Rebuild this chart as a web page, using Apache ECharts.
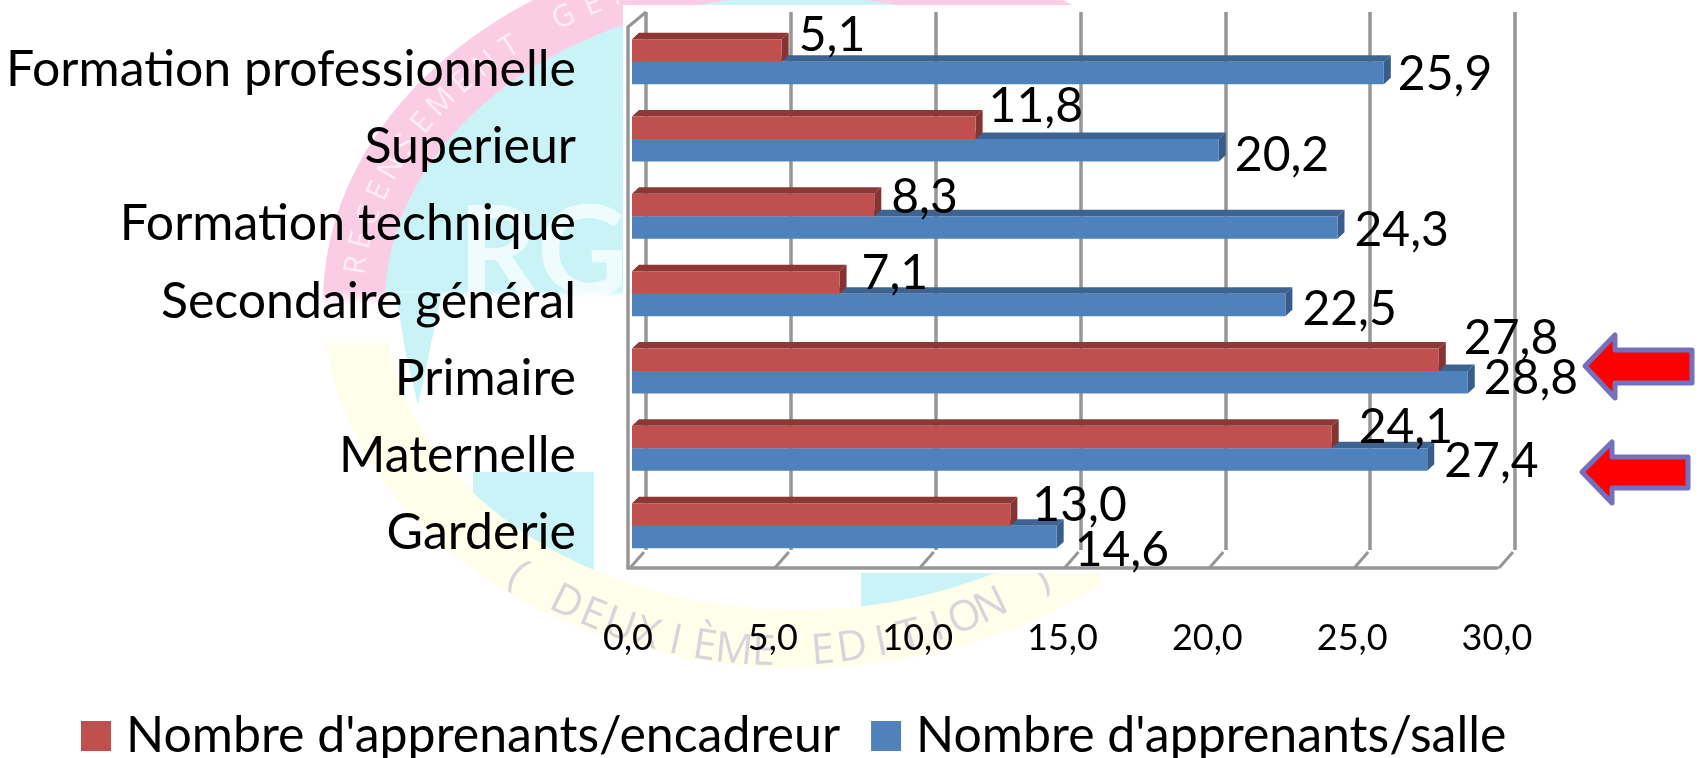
<!DOCTYPE html>
<html><head><meta charset="utf-8">
<style>html,body{margin:0;padding:0;background:#fff}#c{width:1699px;height:758px}</style>
<script src="https://cdn.jsdelivr.net/npm/echarts@6/dist/echarts.min.js"></script>
</head><body><div id="c"></div>
<script>
const categories = ['Formation professionnelle','Superieur','Formation technique','Secondaire général','Primaire','Maternelle','Garderie'];
const encadreur = [5.1,11.8,8.3,7.1,27.8,24.1,13.0];
const salle = [25.9,20.2,24.3,22.5,28.8,27.4,14.6];
const valueTicks = [0,5,10,15,20,25,30];
const nameEncadreur = "Nombre d'apprenants/encadreur";
const nameSalle = "Nombre d'apprenants/salle";

// layout-only label nudges [dx from bar end, dy from bar outer edge]
const nudgeEncadreur = [[17,-4],[13,-10],[17,4],[22,2],[25,-10],[27,2],[22,2]];
const nudgeSalle = [[14,-10],[16,-6],[17,-8],[17,-7],[16,-15],[17,-9],[18,2]];

const FONT = 'Lato';
const GRID = '#969696';
const fmt = v => v.toFixed(1).replace('.', ',');
const chart = echarts.init(document.getElementById('c'));

function bar3d(front, top, side, nudges, isUpper) {
  return function (params, api) {
    const v = api.value(0), i = api.value(1);
    const c = api.coord([v, i]), o = api.coord([0, i]);
    const band = api.size([0, 1])[1];
    const h = band * 0.291, dx = 7, dy = 6.5;
    const y0 = isUpper ? c[1] - h : c[1];
    const y1 = y0 + h;
    const n = nudges[i];
    const ly = isUpper ? y0 + n[1] : y1 + n[1];
    return {
      type: 'group',
      children: [
        {type:'polygon', shape:{points:[[o[0]-2,y0],[o[0]+5,y0-dy],[c[0]+dx,y0-dy],[c[0],y0]]}, style:{fill:top}},
        {type:'polygon', shape:{points:[[c[0],y0],[c[0]+dx,y0-dy],[c[0]+dx,y1-dy],[c[0],y1]]}, style:{fill:side}},
        {type:'rect', shape:{x:o[0]-2,y:y0,width:c[0]-o[0]+2,height:h}, style:{fill:front}},
        {type:'text', z2:50, style:{text:fmt(v), x:c[0]+n[0], y:ly, font:'48px '+FONT, fill:'#000', textAlign:'left', textVerticalAlign:'middle'}}
      ]
    };
  };
}

function diag(params, api) {
  const v = api.value(0);
  const c = api.coord([v, categories.length-1]);
  const band = api.size([0, 1])[1];
  const y = c[1] + band/2, d = 16;
  const kids = [{type:'polyline', shape:{points:[[c[0]+2,y],[c[0]+d,y-d]]}, style:{stroke:GRID, lineWidth:3, fill:null}}];
  if (v === 0) {
    const t = api.coord([0,0])[1] - band/2;
    kids.push({type:'polyline', shape:{points:[[c[0],t],[c[0]+18,t-15]]}, style:{stroke:GRID, lineWidth:3, fill:null}});
  }
  return {type:'group', children:kids};
}

// Decorative faded watermark behind the chart
const CX = 798, CY = 303, RXO = 475, RYO = 365, RXI = 413, RYI = 307;
function vgrad(y0,y1,stops){
  return new echarts.graphic.LinearGradient(0,y0,0,y1,stops.map(s=>({offset:(s[0]-y0)/(y1-y0),color:s[1]})),true);
}
const CYAN='#c9f3f7', PINK='#fbcde5', YEL='#fffeea';
function arcPts(x0,x1,n){
  const p=[];
  for(let k=0;k<=n;k++){
    const x=x0+(x1-x0)*k/n;
    const s=1-Math.pow((x-CX)/RXI,2);
    p.push([x,CY+RYI*Math.sqrt(Math.max(s,0))]);
  }
  return p;
}
function arcText(str,cx,cy,rx,ry,t0,t1,font,fill){
  const out=[], n=str.length-1;
  for(let k=0;k<str.length;k++){
    const t=(t0+(t1-t0)*k/n)*Math.PI/180, sgn=t1>t0?1:-1;
    const x=cx+rx*Math.cos(t), y=cy+ry*Math.sin(t);
    const tx=-rx*Math.sin(t)*sgn, ty=ry*Math.cos(t)*sgn;
    out.push({type:'text',z:-8,x:x,y:y,rotation:-Math.atan2(ty,tx),silent:true,
      style:{text:str[k],font:font,fill:fill,textAlign:'center',textVerticalAlign:'middle'}});
  }
  return out;
}
function arrow(tipX,tipY,headX,headT,headB,shT,shB,endX){
  return {type:'polygon',z:20,silent:true,
    shape:{points:[[tipX,tipY],[headX,headT],[headX,shT],[endX,shT],[endX,shB],[headX,shB],[headX,headB]]},
    style:{fill:'#ff0000',stroke:'#7370bd',lineWidth:5,lineJoin:'round'}};
}
const oT=CY-RYO, oB=CY+RYO, iT=CY-RYI, iB=CY+RYI;
const watermark = [
  {type:'ellipse',z:-10,silent:true,shape:{cx:CX,cy:CY,rx:RXO,ry:RYO},
    style:{fill:vgrad(oT,oB,[[oT,PINK],[290,PINK],[305,'#ffffff'],[335,'#ffffff'],[350,YEL],[oB,YEL]])}},
  {type:'ellipse',z:-9,silent:true,shape:{cx:CX,cy:CY,rx:RXI,ry:RYI},
    style:{fill:vgrad(iT,iB,[[iT,CYAN],[290,CYAN],[297,'#ffffff'],[iB,'#ffffff']])}},
  {type:'polygon',z:-8.5,silent:true,shape:{points:[[473,472]].concat(arcPts(473,594,14)).concat([[594,472]])},style:{fill:CYAN}},
  {type:'polygon',z:-8.5,silent:true,shape:{points:[[861,570]].concat(arcPts(861,1060,14)).concat([[1060,570]])},style:{fill:CYAN}},
  {type:'polygon',z:-8.5,silent:true,shape:{points:[[396,293],[442,293],[418,405],[405,350]]},style:{fill:CYAN}},
  {type:'text',z:-8,silent:true,x:458,y:255,style:{text:'RG',font:'bold 125px Lato',fill:'rgba(255,255,255,0.7)',textVerticalAlign:'middle'}},
  {type:'rect',z:-5,silent:true,shape:{x:623,y:5,width:1076,height:568},style:{fill:'#fff'}},
  {type:'rect',z:-5,silent:true,shape:{x:1100,y:0,width:599,height:758},style:{fill:'#fff'}}
]
.concat(arcText('RECENSEMENT GÉNÉRAL',CX,CY,444,336,186.5,264,'30px "Open Sans"','#fdeef6'))
.concat(arcText('( DEUXIÈME EDITION )',782,303,420,350,129,52,'42px "Open Sans"','#d6d6da'))
.concat([
  arrow(1585,366,1615,335,398,350,383,1692),
  arrow(1582,472,1612,442,503,457,488,1688)
]);

const hiddenCat = i => ({type:'category',gridIndex:i,data:categories,inverse:true,axisLine:{show:false},axisTick:{show:false},axisLabel:{show:false},splitLine:{show:false}});
const hiddenVal = i => ({type:'value',gridIndex:i,min:0,max:30,interval:5,axisLine:{show:false},axisTick:{show:false},axisLabel:{show:false},splitLine:{show:false}});

chart.setOption({
  animation:false,
  textStyle:{fontFamily:FONT},
  graphic:{elements:watermark},
  legend:{
    left:76, top:706, itemWidth:30, itemHeight:30, itemGap:31, icon:'rect', selectedMode:false,
    data:[nameEncadreur,nameSalle],
    textStyle:{fontFamily:FONT,fontSize:50,color:'#000',padding:[0,0,0,10]}
  },
  grid:[
    {left:646,top:12,width:869,height:538},
    {left:634,top:23,width:868.5,height:541.3},
    {left:628,top:27,width:869,height:541},
    {left:628,top:31,width:869,height:541}
  ],
  xAxis:[
    {type:'value',gridIndex:0,min:0,max:30,interval:5,axisLine:{show:false},axisTick:{show:false},axisLabel:{show:false},
      splitLine:{show:true,lineStyle:{color:GRID,width:3.5}}},
    hiddenVal(1),
    {type:'value',gridIndex:2,min:0,max:30,interval:5,axisLine:{show:true,onZero:false,lineStyle:{color:GRID,width:3.5}},axisTick:{show:false},splitLine:{show:false},
      axisLabel:{show:true,margin:52,fontFamily:FONT,fontSize:36,color:'#000',formatter:v=>fmt(v),hideOverlap:false,showMinLabel:true,showMaxLabel:true}},
    hiddenVal(3)
  ],
  yAxis:[
    hiddenCat(0),
    hiddenCat(1),
    {type:'category',gridIndex:2,data:categories,inverse:true,axisLine:{show:true,lineStyle:{color:GRID,width:3.5}},axisTick:{show:false},axisLabel:{show:false},splitLine:{show:false}},
    {type:'category',gridIndex:3,data:categories,inverse:true,axisLine:{show:false},axisTick:{show:false},splitLine:{show:false},
      axisLabel:{show:true,interval:0,margin:52,fontFamily:FONT,fontSize:50,color:'#000',align:'right'}}
  ],
  series:[
    {type:'custom',name:'diag',silent:true,xAxisIndex:2,yAxisIndex:2,data:valueTicks.map(v=>[v]),encode:{x:0},renderItem:diag,clip:false,z:1},
    {type:'custom',name:nameSalle,xAxisIndex:1,yAxisIndex:1,itemStyle:{color:'#4f81bd'},data:salle.map((v,i)=>[v,i]),encode:{x:0,y:1},
      renderItem:bar3d('#4f81bd','#3e6390','#385d8a',nudgeSalle,false),clip:false,z:3},
    {type:'custom',name:nameEncadreur,xAxisIndex:1,yAxisIndex:1,itemStyle:{color:'#c0504d'},data:encadreur.map((v,i)=>[v,i]),encode:{x:0,y:1},
      renderItem:bar3d('#c0504d','#8c3836','#843432',nudgeEncadreur,true),clip:false,z:4}
  ]
});
</script></body></html>
